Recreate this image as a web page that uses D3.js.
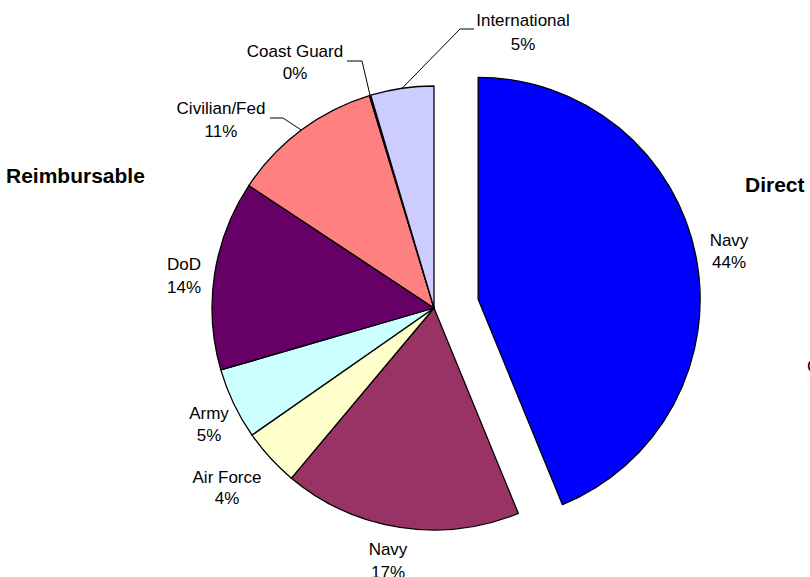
<!DOCTYPE html>
<html>
<head>
<meta charset="utf-8">
<script src="https://cdn.jsdelivr.net/npm/d3@7"></script>
<style>
  body { margin: 0; background: #fff; }
  svg { display: block; font-family: "Liberation Sans", Arial, sans-serif; }
  .lbl { font-size: 17px; fill: #000; }
  .grp { font-size: 21px; font-weight: bold; fill: #000; }
</style>
</head>
<body>
<svg id="chart" width="810" height="577"></svg>
<script>
// 予算の内訳 (%)
var categories = ["Navy", "Navy", "Air Force", "Army", "DoD", "Civilian/Fed", "Coast Guard", "International"];
var values = [43.8, 17.3, 4.2, 5.2, 13.8, 11.0, 0.1, 4.6];
var groups = ["Direct", "Reimbursable", "Reimbursable", "Reimbursable", "Reimbursable", "Reimbursable", "Reimbursable", "Reimbursable"];
var colors = ["#0000ff", "#993366", "#ffffcc", "#ccffff", "#660066", "#ff8080", "#0066cc", "#ccccff"];

// ラベルの配置 (x, 1行目のベースライン, 行間, 引き出し線の折れ点)
var labelLayout = [
  { x: 729, y: 246, dy: 22 },
  { x: 388, y: 555, dy: 23 },
  { x: 227, y: 483, dy: 21 },
  { x: 209, y: 419, dy: 22 },
  { x: 184, y: 270, dy: 23 },
  { x: 221, y: 114, dy: 23, leader: { ex: 283, ey: 118, end: 270 } },
  { x: 295, y: 57, dy: 22, leader: { ex: 362, ey: 61, end: 347 } },
  { x: 523, y: 26, dy: 24, leader: { ex: 460, ey: 29, end: 474 } },
];

var cx = 434, cy = 308, radius = 222, explode = 45;

var svg = d3.select("#chart");
svg.append("rect").attr("width", 810).attr("height", 577).attr("fill", "#fff");

var total = d3.sum(values);
var pie = d3.pie().sort(null).value((d) => d)(values);
var arc = d3.arc().innerRadius(0).outerRadius(radius);

// 円グラフの扇形 (Direct は切り離して描く)
var g = svg.append("g").attr("transform", `translate(${cx},${cy})`);
g.selectAll("path")
  .data(pie)
  .enter()
  .append("path")
  .attr("d", arc)
  .attr("fill", (d, i) => colors[i])
  .attr("stroke", "#000")
  .attr("stroke-width", 1.3)
  .attr("stroke-linejoin", "round")
  .attr("transform", (d, i) => {
    if (groups[i] != "Direct") return null;
    var mid = (d.startAngle + d.endAngle) / 2;
    return `translate(${Math.sin(mid) * explode},${-Math.cos(mid) * explode})`;
  });

// 引き出し線
pie.forEach((d, i) => {
  var lay = labelLayout[i];
  if (!lay.leader) return;
  var mid = (d.startAngle + d.endAngle) / 2;
  var px = cx + Math.sin(mid) * radius;
  var py = cy - Math.cos(mid) * radius;
  svg.append("polyline")
    .attr("points", `${px},${py} ${lay.leader.ex},${lay.leader.ey} ${lay.leader.end},${lay.leader.ey}`)
    .attr("fill", "none")
    .attr("stroke", "#000")
    .attr("stroke-width", 1);
});

// ラベル (名前と割合)
pie.forEach((d, i) => {
  var lay = labelLayout[i];
  var t = svg.append("text").attr("class", "lbl").attr("text-anchor", "middle");
  t.append("tspan").attr("x", lay.x).attr("y", lay.y).text(categories[i]);
  t.append("tspan").attr("x", lay.x).attr("y", lay.y + lay.dy)
    .text(`${Math.round((d.value / total) * 100)}%`);
});

// グループ見出し
svg.append("text").attr("class", "grp").attr("x", 6).attr("y", 183).text("Reimbursable");
svg.append("text").attr("class", "grp").attr("x", 745).attr("y", 192).text("Direct");
// 右端で切れている文字
svg.append("text").attr("class", "lbl").attr("x", 807).attr("y", 372).text("C");
</script>
</body>
</html>
